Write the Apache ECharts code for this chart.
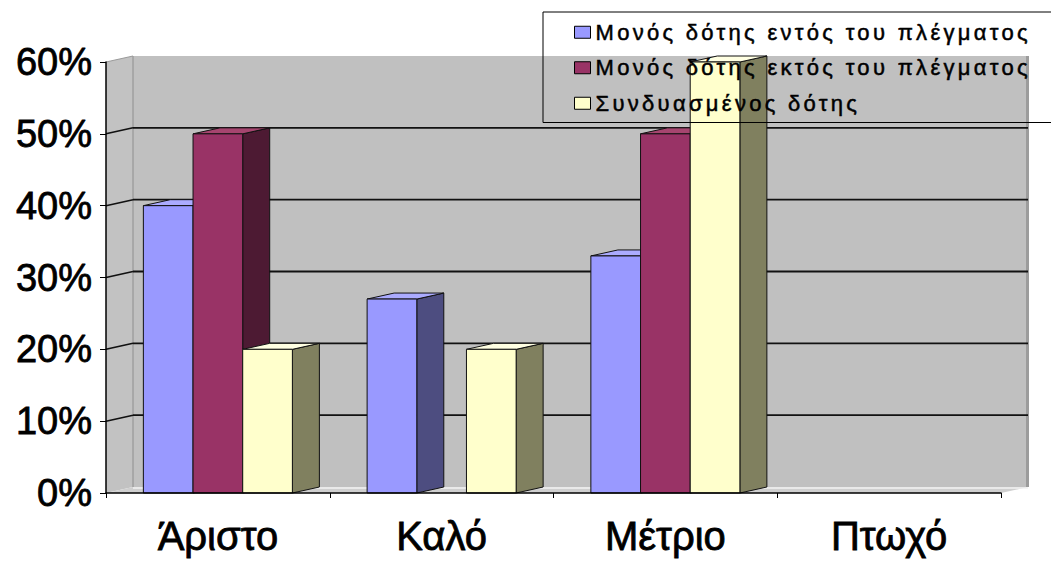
<!DOCTYPE html>
<html>
<head>
<meta charset="utf-8">
<script src="https://cdn.jsdelivr.net/npm/echarts@6/dist/echarts.min.js"></script>
<style>
  html, body { margin: 0; padding: 0; background: #fff; }
  #chart { width: 1051px; height: 561px; }
</style>
</head>
<body>
<div id="chart"></div>
<script>
// Categories and series values (percent)
const categories = ['Άριστο', 'Καλό', 'Μέτριο', 'Πτωχό'];
const seriesNames = [
  'Μονός δότης εντός του πλέγματος',
  'Μονός δότης εκτός του πλέγματος',
  'Συνδυασμένος δότης'
];
const insideGrid = [40, 27, 33, 0];
const outsideGrid = [50, 0, 50, 0];
const combined = [20, 20, 60, 0];
const yTicks = [0, 10, 20, 30, 40, 50, 60];

// Depth offset of the 3D box (pixels)
const DX = 27, DY = -6;
const palette = [
  { front: '#9999FF', side: '#4D4D80', top: '#ABABFF' },
  { front: '#993366', side: '#4D1A33', top: '#A6456F' },
  { front: '#FFFFCC', side: '#80805F', top: '#FFFFE2' }
];
const EDGE = '#111';

// Side wall, back wall, floor and gridlines
function renderWalls(params, api) {
  const cs = params.coordSys;
  const x0 = cs.x, x1 = cs.x + cs.width;
  const yT = cs.y, yB = cs.y + cs.height;
  const yMin = yTicks[0], yMax = yTicks[yTicks.length - 1];
  const ch = [];
  ch.push({ type: 'polygon', shape: { points: [[x0, yT], [x0 + DX, yT + DY], [x0 + DX, yB + DY], [x0, yB]] },
            style: { fill: '#C2C2C2' } });
  ch.push({ type: 'rect', shape: { x: x0 + DX, y: yT + DY, width: cs.width, height: cs.height },
            style: { fill: '#C0C0C0' } });
  ch.push({ type: 'rect', shape: { x: x1 + DX - 2, y: yT + DY, width: 3, height: cs.height },
            style: { fill: '#9C9C9C' } });
  ch.push({ type: 'polygon', shape: { points: [[x0, yB], [x1, yB], [x1 + DX, yB + DY], [x0 + DX, yB + DY]] },
            style: { fill: '#CFCFCF' } });
  ch.push({ type: 'line', shape: { x1: x0 + DX, y1: yB + DY + 1, x2: x1 + DX, y2: yB + DY + 1 },
            style: { stroke: '#F2F2F2', lineWidth: 1.5 } });
  ch.push({ type: 'line', shape: { x1: x0 + DX, y1: yT + DY, x2: x0 + DX, y2: yB + DY },
            style: { stroke: '#8E8E8E', lineWidth: 1 } });
  ch.push({ type: 'line', shape: { x1: x0, y1: yT, x2: x0 + DX, y2: yT + DY },
            style: { stroke: '#9A9A9A', lineWidth: 1 } });
  yTicks.forEach(function (t) {
    if (t <= yMin || t >= yMax) return;
    const y = api.coord([0, t])[1];
    ch.push({ type: 'line', shape: { x1: x0, y1: y, x2: x0 + DX, y2: y + DY },
              style: { stroke: '#111', lineWidth: 1.6 } });
    ch.push({ type: 'line', shape: { x1: x0 + DX, y1: y + DY, x2: x1 + DX, y2: y + DY },
              style: { stroke: '#111', lineWidth: 1.8 } });
  });
  return { type: 'group', children: ch };
}

// One 3D column: front face, right side face, top face
function columnRenderer(slot) {
  const col = palette[slot];
  return function (params, api) {
    const cat = api.value(0), v = api.value(1);
    if (!v) return;
    const band = api.size([1, 0])[0];
    const w = band * 0.222;
    const base = api.coord([cat, 0]);
    const topPt = api.coord([cat, v]);
    const xl = base[0] + (slot - 1.5) * w;
    const xr = xl + w;
    const yb = base[1], yt = topPt[1];
    const s = { stroke: EDGE, lineWidth: 1, lineJoin: 'round' };
    return {
      type: 'group',
      children: [
        { type: 'polygon', shape: { points: [[xr, yt], [xr + DX, yt + DY], [xr + DX, yb + DY], [xr, yb]] },
          style: Object.assign({ fill: col.side }, s) },
        { type: 'polygon', shape: { points: [[xl, yt], [xl + DX, yt + DY], [xr + DX, yt + DY], [xr, yt]] },
          style: Object.assign({ fill: col.top }, s) },
        { type: 'rect', shape: { x: xl, y: yt, width: w, height: yb - yt },
          style: Object.assign({ fill: col.front }, s) }
      ]
    };
  };
}

function pairs(arr) { return arr.map(function (v, i) { return [i, v]; }); }

const chart = echarts.init(document.getElementById('chart'), null, { renderer: 'svg' });
const font = '"Liberation Sans", Arial, sans-serif';

chart.setOption({
  backgroundColor: '#fff',
  animation: false,
  textStyle: { fontFamily: font },
  grid: { left: 106, right: 50, top: 62, bottom: 68 },
  xAxis: {
    type: 'category',
    data: categories,
    z: 5,
    axisLine: { lineStyle: { color: '#000', width: 1.5 } },
    axisTick: { show: true, length: 5, lineStyle: { color: '#000' } },
    axisLabel: { fontSize: 40, color: '#000', margin: 23, fontFamily: font,
                 textBorderColor: '#000', textBorderWidth: 0.8 },
    splitLine: { show: false }
  },
  yAxis: {
    type: 'value',
    min: yTicks[0],
    max: yTicks[yTicks.length - 1],
    interval: 10,
    z: 5,
    axisLine: { show: true, lineStyle: { color: '#000', width: 1.5 } },
    axisTick: { show: true, length: 6, lineStyle: { color: '#000' } },
    axisLabel: { fontSize: 38, color: '#000', margin: 14, formatter: '{value}%', fontFamily: font,
                 textBorderColor: '#000', textBorderWidth: 0.8 },
    splitLine: { show: false }
  },
  legend: {
    data: seriesNames,
    orient: 'vertical',
    left: 543,
    top: 12,
    padding: [9, 240, 8, 31],
    itemGap: 13,
    itemWidth: 16,
    itemHeight: 12,
    icon: 'rect',
    borderColor: '#000',
    borderWidth: 1,
    backgroundColor: 'transparent',
    itemStyle: { borderColor: '#000', borderWidth: 1 },
    textStyle: { fontSize: 22, lineHeight: 22, color: '#000', fontFamily: font,
                 textBorderColor: '#000', textBorderWidth: 0.5 }
  },
  series: [
    { type: 'custom', name: 'walls', data: [[0, 0]], renderItem: renderWalls, z: 1, silent: true },
    { type: 'custom', name: seriesNames[0], data: pairs(insideGrid), renderItem: columnRenderer(0), z: 2,
      itemStyle: { color: palette[0].front } },
    { type: 'custom', name: seriesNames[1], data: pairs(outsideGrid), renderItem: columnRenderer(1), z: 2,
      itemStyle: { color: palette[1].front } },
    { type: 'custom', name: seriesNames[2], data: pairs(combined), renderItem: columnRenderer(2), z: 2,
      itemStyle: { color: palette[2].front } }
  ]
});

// Legend captions are set with wide tracking
function spaceLegend() {
  chart.getDom().querySelectorAll('text').forEach(function (t) {
    if (seriesNames.indexOf(t.textContent) >= 0) t.setAttribute('letter-spacing', '3.3');
  });
}
chart.on('finished', spaceLegend);
spaceLegend();
</script>
</body>
</html>
